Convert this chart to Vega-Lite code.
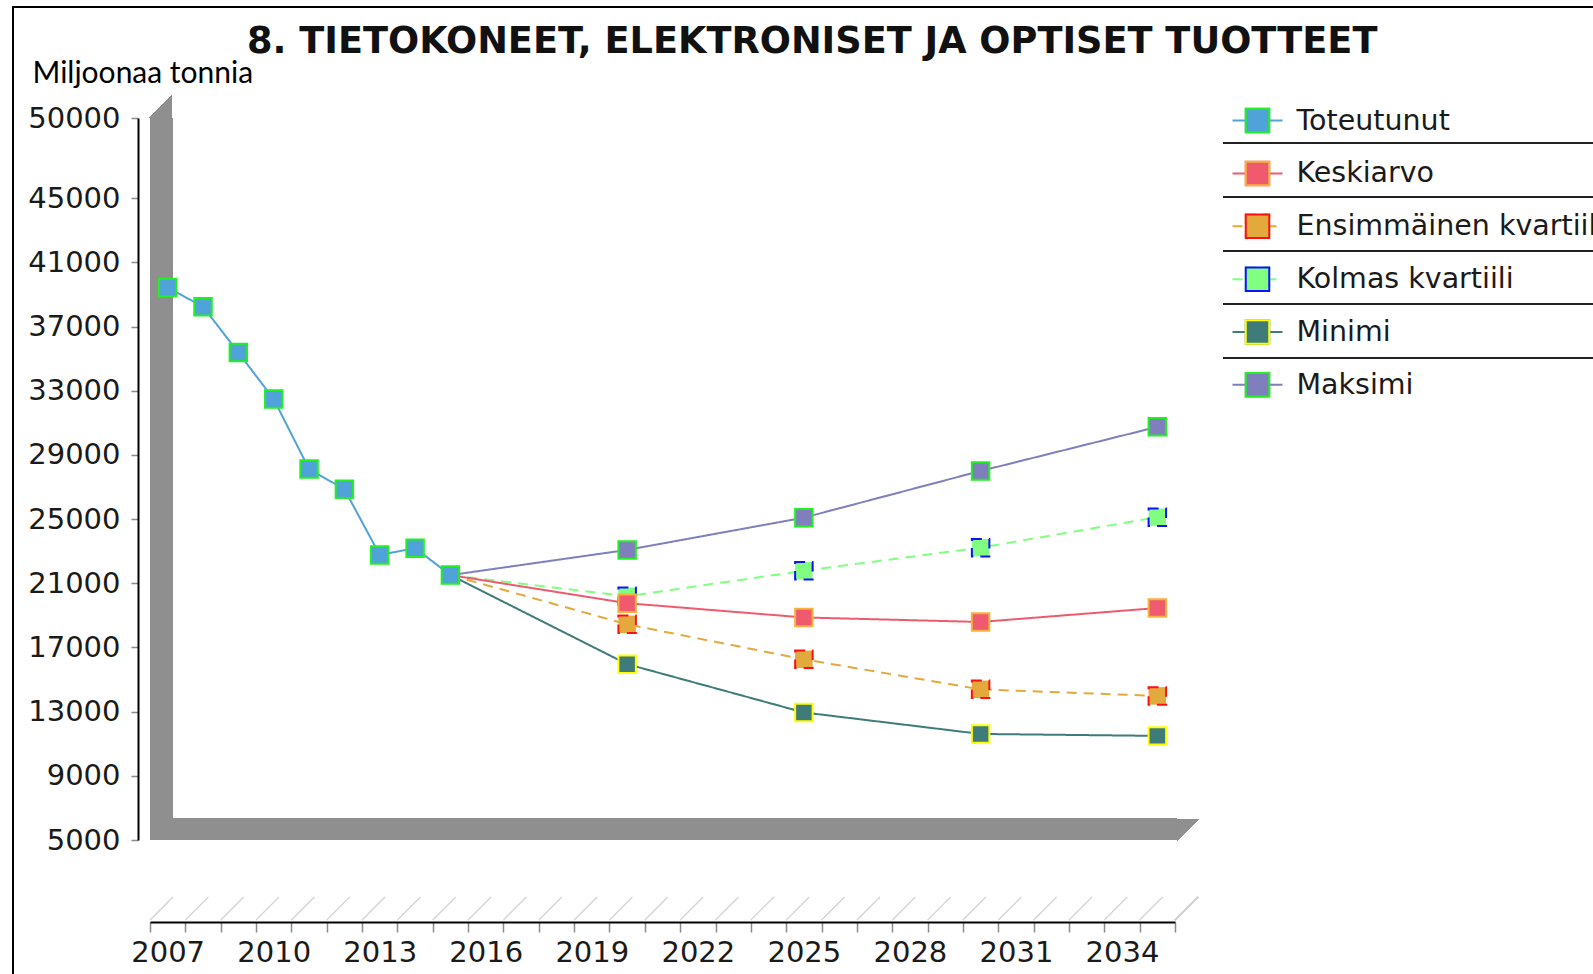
{
  "$schema": "https://vega.github.io/schema/vega-lite/v6.json",
  "width": 1025,
  "height": 722,
  "autosize": {"type": "none"},
  "padding": {"left": 150, "top": 118, "right": 418, "bottom": 134},
  "background": "white",
  "config": {
    "view": {"stroke": null},
    "axis": {"labelFont": "DejaVu Sans", "labelFontSize": 29, "labelColor": "#1a1a1a", "grid": false, "labelFlush": false, "labelOverlap": false},
    "legend": {"labelFont": "DejaVu Sans", "labelFontSize": 28.5, "labelColor": "#1a1a1a", "labelLimit": 0, "padding": 0, "rowPadding": 10.85, "orient": "none", "legendX": 1073, "legendY": -23.4, "symbolSize": 2500, "symbolStrokeWidth": 2}
  },
  "title": {"text": "8. TIETOKONEET, ELEKTRONISET JA OPTISET TUOTTEET", "font": "DejaVu Sans", "fontSize": 36.7, "fontWeight": "bold", "color": "#111111", "anchor": "start", "frame": "group", "dx": 97, "dy": 84, "baseline": "alphabetic", "offset": 0},
  "datasets": {
    "years": [
      {"year": 2007}, {"year": 2008}, {"year": 2009}, {"year": 2010}, {"year": 2011}, {"year": 2012}, {"year": 2013}, {"year": 2014}, {"year": 2015}, {"year": 2016},
      {"year": 2017}, {"year": 2018}, {"year": 2019}, {"year": 2020}, {"year": 2021}, {"year": 2022}, {"year": 2023}, {"year": 2024}, {"year": 2025}, {"year": 2026},
      {"year": 2027}, {"year": 2028}, {"year": 2029}, {"year": 2030}, {"year": 2031}, {"year": 2032}, {"year": 2033}, {"year": 2034}, {"year": 2035}
    ]
  },
  "data": {"values": [
    {"series": "Maksimi", "year": 2015, "value": 21510},
    {"series": "Maksimi", "year": 2020, "value": 23080},
    {"series": "Maksimi", "year": 2025, "value": 25090},
    {"series": "Maksimi", "year": 2030, "value": 28000},
    {"series": "Maksimi", "year": 2035, "value": 30750},
    {"series": "Minimi", "year": 2015, "value": 21510},
    {"series": "Minimi", "year": 2020, "value": 15960},
    {"series": "Minimi", "year": 2025, "value": 12950},
    {"series": "Minimi", "year": 2030, "value": 11610},
    {"series": "Minimi", "year": 2035, "value": 11490},
    {"series": "Kolmas kvartiili", "year": 2015, "value": 21510},
    {"series": "Kolmas kvartiili", "year": 2020, "value": 20190},
    {"series": "Kolmas kvartiili", "year": 2025, "value": 21780},
    {"series": "Kolmas kvartiili", "year": 2030, "value": 23220},
    {"series": "Kolmas kvartiili", "year": 2035, "value": 25120},
    {"series": "Ensimmäinen kvartiili", "year": 2015, "value": 21510},
    {"series": "Ensimmäinen kvartiili", "year": 2020, "value": 18440},
    {"series": "Ensimmäinen kvartiili", "year": 2025, "value": 16260},
    {"series": "Ensimmäinen kvartiili", "year": 2030, "value": 14390},
    {"series": "Ensimmäinen kvartiili", "year": 2035, "value": 13980},
    {"series": "Keskiarvo", "year": 2015, "value": 21510},
    {"series": "Keskiarvo", "year": 2020, "value": 19760},
    {"series": "Keskiarvo", "year": 2025, "value": 18870},
    {"series": "Keskiarvo", "year": 2030, "value": 18590},
    {"series": "Keskiarvo", "year": 2035, "value": 19460},
    {"series": "Toteutunut", "year": 2007, "value": 39430},
    {"series": "Toteutunut", "year": 2008, "value": 38240},
    {"series": "Toteutunut", "year": 2009, "value": 35380},
    {"series": "Toteutunut", "year": 2010, "value": 32480},
    {"series": "Toteutunut", "year": 2011, "value": 28120},
    {"series": "Toteutunut", "year": 2012, "value": 26860},
    {"series": "Toteutunut", "year": 2013, "value": 22770},
    {"series": "Toteutunut", "year": 2014, "value": 23190},
    {"series": "Toteutunut", "year": 2015, "value": 21510}
  ]},
  "resolve": {"axis": {"x": "independent", "y": "independent"}},
  "layer": [
    {
      "mark": {"type": "rect", "filled": false, "color": "#000000", "strokeWidth": 2, "clip": false},
      "encoding": {
        "x": {"datum": 2002.624, "type": "quantitative", "axis": null},
        "x2": {"datum": 2050},
        "y": {"datum": 56918, "type": "quantitative", "axis": null},
        "y2": {"datum": -6000}
      }
    },
    {
      "data": {"name": "years"},
      "mark": {"type": "rule", "color": "#d2d2d2", "strokeWidth": 1.2, "clip": false, "xOffset": -17.67, "x2Offset": 5.33},
      "encoding": {
        "x": {"field": "year", "type": "quantitative", "axis": null},
        "x2": {"field": "year"},
        "y": {"datum": 14, "type": "quantitative", "axis": null},
        "y2": {"datum": 1447}
      }
    },
    {
      "mark": {"type": "rule", "color": "#d2d2d2", "strokeWidth": 1.2, "clip": false, "x2Offset": 23},
      "encoding": {
        "x": {"datum": 2035.5, "type": "quantitative", "axis": null},
        "x2": {"datum": 2035.5},
        "y": {"datum": 14, "type": "quantitative", "axis": null},
        "y2": {"datum": 1447}
      }
    },
    {
      "mark": {"type": "rect", "color": "#8f8f8f", "clip": false},
      "encoding": {
        "x": {"datum": 2006.5, "type": "quantitative", "axis": null},
        "x2": {"datum": 2007.15},
        "y": {"datum": 5000, "type": "quantitative", "axis": null},
        "y2": {"datum": 50000}
      }
    },
    {
      "mark": {"type": "rect", "color": "#8f8f8f", "clip": false},
      "encoding": {
        "x": {"datum": 2006.5, "type": "quantitative", "axis": null},
        "x2": {"datum": 2035.556},
        "y": {"datum": 5000, "type": "quantitative", "axis": null},
        "y2": {"datum": 6371}
      }
    },
    {
      "mark": {"type": "point", "shape": "M-1,1L1,-1L1,1Z", "filled": true, "color": "#8f8f8f", "size": 529, "opacity": 1, "strokeWidth": 0, "clip": false},
      "encoding": {
        "x": {"datum": 2006.797, "type": "quantitative", "axis": null},
        "y": {"datum": 50717, "type": "quantitative", "axis": null}
      }
    },
    {
      "mark": {"type": "point", "shape": "M-1,-1L1,-1L-1,1Z", "filled": true, "color": "#8f8f8f", "size": 484, "opacity": 1, "strokeWidth": 0, "clip": false},
      "encoding": {
        "x": {"datum": 2035.868, "type": "quantitative", "axis": null},
        "y": {"datum": 5623, "type": "quantitative", "axis": null}
      }
    },
    {"mark": {"type": "rule", "color": "#222222", "strokeWidth": 2, "clip": false}, "encoding": {"x": {"datum": 2036.86, "type": "quantitative", "axis": null}, "x2": {"datum": 2050.35}, "y": {"datum": 48442, "type": "quantitative", "axis": null}}},
    {"mark": {"type": "rule", "color": "#222222", "strokeWidth": 2, "clip": false}, "encoding": {"x": {"datum": 2036.86, "type": "quantitative", "axis": null}, "x2": {"datum": 2050.35}, "y": {"datum": 45076, "type": "quantitative", "axis": null}}},
    {"mark": {"type": "rule", "color": "#222222", "strokeWidth": 2, "clip": false}, "encoding": {"x": {"datum": 2036.86, "type": "quantitative", "axis": null}, "x2": {"datum": 2050.35}, "y": {"datum": 41711, "type": "quantitative", "axis": null}}},
    {"mark": {"type": "rule", "color": "#222222", "strokeWidth": 2, "clip": false}, "encoding": {"x": {"datum": 2036.86, "type": "quantitative", "axis": null}, "x2": {"datum": 2050.35}, "y": {"datum": 38407, "type": "quantitative", "axis": null}}},
    {"mark": {"type": "rule", "color": "#222222", "strokeWidth": 2, "clip": false}, "encoding": {"x": {"datum": 2036.86, "type": "quantitative", "axis": null}, "x2": {"datum": 2050.35}, "y": {"datum": 35042, "type": "quantitative", "axis": null}}},
    {
      "mark": {"type": "line", "strokeWidth": 2},
      "encoding": {
        "x": {"field": "year", "type": "quantitative",
          "scale": {"domain": [2006.5, 2035.5], "nice": false, "zero": false},
          "axis": {"orient": "bottom", "values": [2006.5, 2007.5, 2008.5, 2009.5, 2010.5, 2011.5, 2012.5, 2013.5, 2014.5, 2015.5, 2016.5, 2017.5, 2018.5, 2019.5, 2020.5, 2021.5, 2022.5, 2023.5, 2024.5, 2025.5, 2026.5, 2027.5, 2028.5, 2029.5, 2030.5, 2031.5, 2032.5, 2033.5, 2034.5, 2035.5],
            "labels": false, "title": null, "offset": 82, "tickSize": 10, "tickColor": "#8a8a8a", "tickWidth": 1.5, "domainColor": "#000000", "domainWidth": 2}},
        "y": {"field": "value", "type": "quantitative",
          "scale": {"domain": [5000, 50000], "nice": false, "zero": false},
          "axis": {"orient": "left", "values": [5000, 9000, 13000, 17000, 21000, 25000, 29000, 33000, 37000, 41000, 45000, 50000],
            "format": "d", "offset": 12, "tickSize": 7, "tickColor": "#8a8a8a", "tickWidth": 1.5, "domainColor": "#000000", "domainWidth": 2, "labelPadding": 11,
            "title": "Miljoonaa tonnia", "titleAngle": 0, "titleX": -106, "titleY": -36, "titleAlign": "left", "titleBaseline": "alphabetic", "titleFont": "Lato", "titleFontSize": 30, "titleFontWeight": "normal", "titleColor": "#000000"}},
        "color": {"field": "series", "type": "nominal",
          "scale": {"domain": ["Toteutunut", "Keskiarvo", "Ensimmäinen kvartiili", "Kolmas kvartiili", "Minimi", "Maksimi"],
            "range": ["#4fa3d9", "#ef5a6e", "#e3a93c", "#80ff80", "#3f7b79", "#7f7fbd"]},
          "legend": {"title": null, "symbolType": "M-1,0H1M-0.47,-0.47H0.47V0.47H-0.47Z", "symbolStrokeWidth": 2, "symbolOffset": 8.5, "labelOffset": 13}},
        "strokeDash": {"field": "series", "type": "nominal",
          "scale": {"domain": ["Toteutunut", "Keskiarvo", "Ensimmäinen kvartiili", "Kolmas kvartiili", "Minimi", "Maksimi"],
            "range": [[1, 0], [1, 0], [10, 7], [10, 7], [1, 0], [1, 0]]}}
      }
    },
    {
      "transform": [{"filter": "datum.series == 'Toteutunut' || datum.year != 2015"}],
      "mark": {"type": "point", "shape": "square", "filled": true, "size": 306, "strokeWidth": 2, "opacity": 1},
      "encoding": {
        "x": {"field": "year", "type": "quantitative",
          "axis": {"orient": "bottom", "values": [2007, 2010, 2013, 2016, 2019, 2022, 2025, 2028, 2031, 2034], "format": "d", "ticks": false, "tickSize": 0, "domain": false, "labelPadding": 16, "offset": 82, "title": null}},
        "y": {"field": "value", "type": "quantitative", "axis": null},
        "fill": {"field": "series", "type": "nominal",
          "scale": {"domain": ["Toteutunut", "Keskiarvo", "Ensimmäinen kvartiili", "Kolmas kvartiili", "Minimi", "Maksimi"],
            "range": ["#4fa3d9", "#ef5a6e", "#e3a93c", "#80ff80", "#3f7b79", "#7f7fbd"]}},
        "stroke": {"field": "series", "type": "nominal",
          "sort": ["Toteutunut", "Keskiarvo", "Ensimmäinen kvartiili", "Kolmas kvartiili", "Minimi", "Maksimi"],
          "scale": {"range": ["#22f022", "#f7b23b", "#ff1010", "#1010ff", "#ffff00", "#22f022"]},
          "legend": {"title": null, "symbolType": "M-1,0M1,0M-0.47,-0.47H0.47V0.47H-0.47Z", "symbolStrokeWidth": 2, "symbolFillColor": "transparent", "symbolOffset": 8.5, "labelOffset": 13, "labelOpacity": 0}},
        "strokeDash": {"field": "series", "type": "nominal"}
      }
    }
  ]
}
